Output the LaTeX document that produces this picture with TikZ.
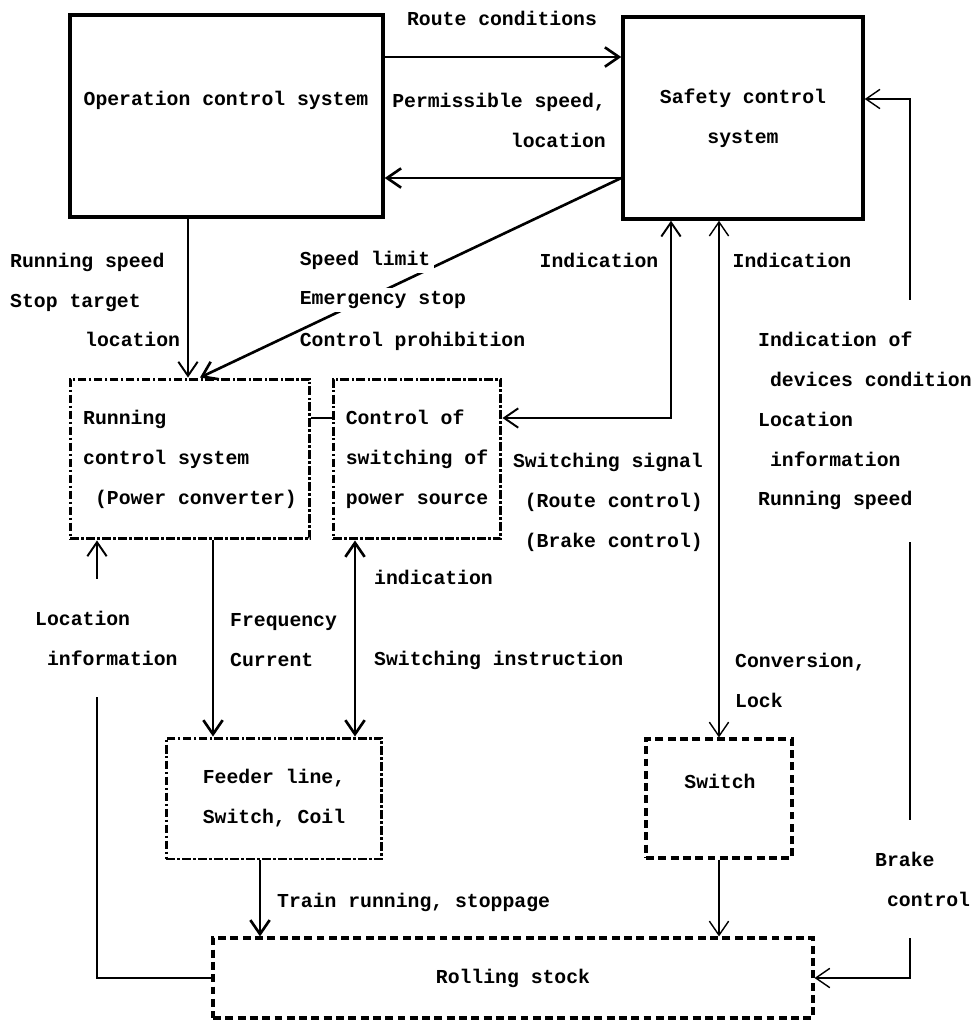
\documentclass[tikz,border=0pt]{standalone}
\usepackage{fontspec}
\setmainfont{Liberation Mono}
\usepackage{tikz}
\usetikzlibrary{arrows.meta}

\begin{document}
\begin{tikzpicture}[x=0.02cm,y=-0.02cm,
  font=\fontsize{11.25}{22.7}\selectfont\bfseries,
  >={Straight Barb[length=8pt,width=11pt]},
  mainBox/.style={draw,line width=2pt,inner sep=0pt},
  dotBox/.style={draw,line width=1.7pt,dash pattern=on 5pt off 1.3pt on 1.5pt off 1.3pt,inner sep=0pt},
  dashBox/.style={draw,line width=1.8pt,dash pattern=on 4.5pt off 2.5pt,inner sep=0pt},
  flowThick/.style={line width=1.5pt},
  flowMid/.style={line width=1.1pt},
  flowThin/.style={line width=0.8pt},
  gapLbl/.style={fill=white,align=left,inner ysep=18pt}]
\useasboundingbox (0,0) rectangle (974,1022);
% kutular
\node[mainBox,minimum width=6.26cm,minimum height=4.04cm] (op) at (226.5,116) {};
\node (opText) at (226,100) {Operation control system};
\node[mainBox,minimum width=4.8cm,minimum height=4.04cm,align=center] (safety) at (743,118) {Safety control\\system};
\node[dotBox,minimum width=4.8cm,minimum height=3.2cm,align=left] (run) at (190,459) {Running\\control system\\~(Power converter)};
\node[dotBox,minimum width=3.36cm,minimum height=3.2cm,align=left] (ctrl) at (417,459) {Control of\\switching of\\power source};
\node[dotBox,minimum width=4.32cm,minimum height=2.42cm,align=left] (feeder) at (274,798.5) {Feeder line,\\Switch, Coil};
\node[dashBox,minimum width=2.92cm,minimum height=2.38cm] (switch) at (719,798.5) {};
\node (switchText) at (720,781) {Switch};
\node[dashBox,minimum width=12cm,minimum height=1.6cm] (rolling) at (513,978) {Rolling stock};
% ust oklar
\draw[flowThick,->] (op.east |- 0,57) -- (safety.west |- 0,57);
\draw[flowThick,->] (safety.west |- 0,178) -- (op.east |- 0,178);
\draw[flowThick,->] (safety.west |- 0,178) -- (run.north -| 200,0);
\draw[flowMid,->] (op.south -| 188,0) -- (run.north -| 188,0);
% gosterge hatlari
\draw[flowMid,<->] (safety.south -| 671,0) |- (ctrl.east |- 0,418);
\draw[flowThin,<->] (safety.south -| 719,0) -- (switch.north -| 719,0);
\coordinate (brakeCorner) at (910,978);
\draw[flowThin,<->] (safety.east |- 0,99) -| (brakeCorner) -- (rolling.east);
\draw[flowMid,->] (rolling.west) -| (run.south -| 97,0);
% alt oklar
\draw[flowThick,->] (run.south -| 213,0) -- (feeder.north -| 213,0);
\draw[flowThick,<->] (ctrl.south -| 355,0) -- (feeder.north -| 355,0);
\draw[flowThick,->] (feeder.south -| 260,0) -- (rolling.north -| 260,0);
\draw[flowThin,->] (switch.south) -- (rolling.north -| switch.south);
\draw[flowMid] (run.east |- 0,418) -- (ctrl.west |- 0,418);
% etiketler
\node (routeLbl) at (502,18) {Route conditions};
\node[anchor=east,align=right] (permLbl) at (612,120) {Permissible speed,\\location};
\node[anchor=west,align=left] (runSpeedLbl) at (4,300) {Running speed\\Stop target\\\hspace*{1.5cm}location};
\node[fill=white,anchor=west,inner sep=2pt] (limitLbl) at (296,260) {Speed limit};
\node[fill=white,anchor=west,inner sep=2pt] (emgLbl) at (296,300) {Emergency stop};
\node[anchor=west,inner sep=2pt] (prohibLbl) at (296,341) {Control prohibition};
\node (indLLbl) at (599,260) {Indication};
\node (indRLbl) at (792,260) {Indication};
\node[gapLbl,anchor=west] (devLbl) at (752,421) {Indication of\\~devices condition\\Location\\~information\\Running speed};
\node[anchor=east,align=right] (sigLbl) at (709,502) {Switching signal\\(Route control)\\(Brake control)};
\node[anchor=west] (indCLbl) at (368,577) {indication};
\node[anchor=west,align=left] (freqLbl) at (224,640) {Frequency\\Current};
\node[anchor=west] (instrLbl) at (368,660) {Switching instruction};
\node[gapLbl,anchor=west] (locLbl) at (29,638) {Location\\~information};
\node[anchor=west,align=left] (convLbl) at (729,680) {Conversion,\\Lock};
\node[anchor=west] (trainLbl) at (271,902) {Train running, stoppage};
\node[gapLbl,anchor=west] (brakeLbl) at (869,879) {Brake\\~control};
\end{tikzpicture}
\end{document}
